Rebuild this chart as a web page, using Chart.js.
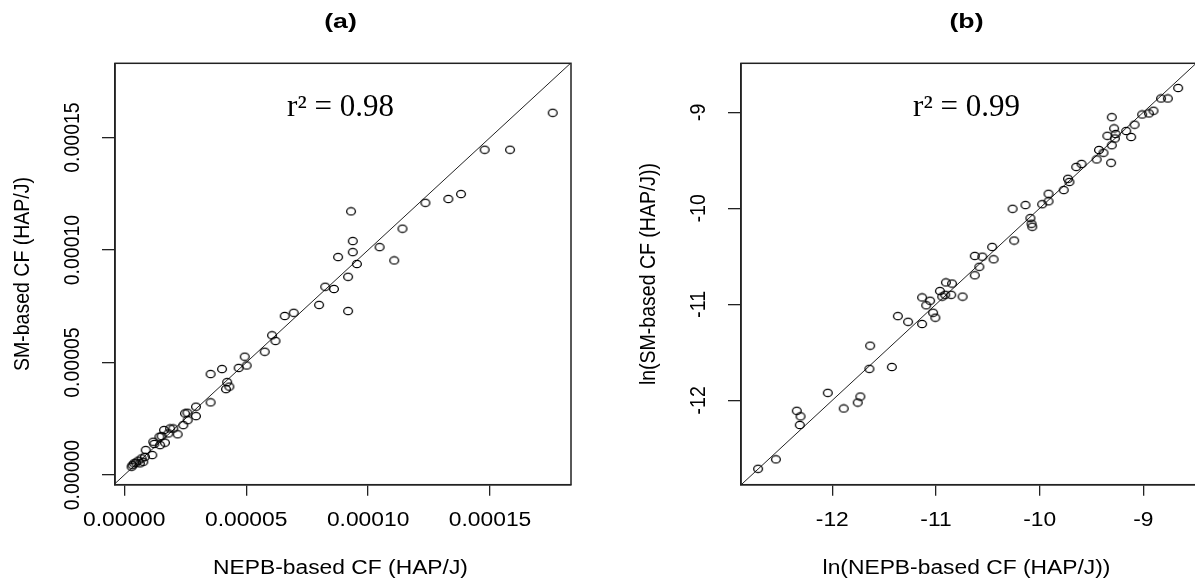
<!DOCTYPE html>
<html>
<head>
<meta charset="utf-8">
<script src="https://cdn.jsdelivr.net/npm/chart.js@4.4.1/dist/chart.umd.min.js"></script>
<style>
  html, body { margin: 0; padding: 0; background: #fff; overflow: hidden; width: 1195px; height: 585px; }
  .wrap { position: absolute; top: 0; height: 585px; }
</style>
</head>
<body>
<div class="wrap" id="wa" style="left:0;width:600px;"><canvas id="ca" width="600" height="585"></canvas></div>
<div class="wrap" id="wb" style="left:597px;width:630px;"><canvas id="cb" width="630" height="585"></canvas></div>
<script>
// ---------- data ----------
const TITLE_A = "(a)";
const TITLE_B = "(b)";
const R2_A = "r\u00B2 = 0.98";
const R2_B = "r\u00B2 = 0.99";
const XLABEL_A = "NEPB-based CF (HAP/J)";
const YLABEL_A = "SM-based CF (HAP/J)";
const XLABEL_B = "ln(NEPB-based CF (HAP/J))";
const YLABEL_B = "ln(SM-based CF (HAP/J))";

const A_TICKS = [0, 0.00005, 0.0001, 0.00015];
const A_TICK_LABELS = ["0.00000", "0.00005", "0.00010", "0.00015"];
const B_TICKS = [-12, -11, -10, -9];
const B_TICK_LABELS = ["-12", "-11", "-10", "-9"];

const A_X_RANGE = [-0.0000038, 0.0001832];
const A_Y_RANGE = [-0.0000043, 0.0001830];
const B_X_RANGE = [-12.881, -8.482];
const B_Y_RANGE = [-12.879, -8.490];

// 1:1 reference line endpoints
const LINE_A = [-0.00001, 0.0002];
const LINE_B = [-13.5, -8.0];

const A_X = [1.757e-4,1.478e-4,1.582e-4,1.235e-4,1.329e-4,1.381e-4,
  9.30e-5,1.141e-4,9.37e-5,9.37e-5,1.047e-4,8.77e-5,9.54e-5,1.107e-4,9.18e-5,8.24e-5,
  8.60e-5,7.99e-5,9.18e-5,6.58e-5,6.95e-5,6.06e-5,6.20e-5,5.76e-5,4.94e-5,5.02e-5,
  4.69e-5,4.01e-5,3.54e-5,4.22e-5,4.17e-5,4.31e-5,3.54e-5,2.94e-5,2.94e-5,2.59e-5,
  2.49e-5,2.60e-5,2.42e-5,2.19e-5,1.88e-5,1.81e-5,1.63e-5,1.53e-5,1.44e-5,1.67e-5,
  1.47e-5,1.19e-5,1.23e-5,8.8e-6,1.15e-5,8.5e-6,7.1e-6,5.8e-6,4.8e-6,4.0e-6,
  6.4e-6,7.8e-6,3.0e-6,3.4e-6,2.01e-5];
const A_Y = [1.610e-4,1.446e-4,1.446e-4,1.210e-4,1.227e-4,1.249e-4,
  1.172e-4,1.095e-4,1.040e-4,9.91e-5,1.013e-4,9.69e-5,9.38e-5,9.54e-5,8.81e-5,8.37e-5,
  8.27e-5,7.56e-5,7.29e-5,7.07e-5,7.21e-5,6.21e-5,5.96e-5,5.48e-5,5.26e-5,4.87e-5,
  4.76e-5,4.71e-5,4.49e-5,4.13e-5,3.82e-5,3.93e-5,3.23e-5,3.04e-5,2.62e-5,2.77e-5,
  2.74e-5,2.44e-5,2.22e-5,1.81e-5,2.07e-5,1.85e-5,2.00e-5,1.73e-5,1.70e-5,1.44e-5,
  1.33e-5,1.48e-5,1.38e-5,1.11e-5,8.9e-6,8.1e-6,7.4e-6,6.4e-6,5.5e-6,5.2e-6,
  5.2e-6,5.9e-6,3.7e-6,4.4e-6,2.07e-5];

const B_X = [-12.716,-12.544,-12.343,-12.307,-12.314,-12.044,-11.890,-11.755,-11.730,-11.642,
  -11.635,-11.426,-11.368,-11.269,-11.134,-11.134,-11.094,-11.057,-11.028,-11.006,
  -10.962,-10.940,-10.911,-10.904,-10.853,-10.845,-10.743,-10.626,-10.626,-10.582,
  -10.553,-10.458,-10.444,-10.261,-10.246,-10.137,-10.089,-10.078,-10.071,-9.976,
  -9.914,-9.914,-9.768,-9.727,-9.713,-9.647,-9.596,-9.450,-9.428,-9.384,
  -9.347,-9.304,-9.311,-9.304,-9.282,-9.274,-9.267,-9.165,-9.117,-9.084,
  -9.011,-8.946,-8.902,-8.829,-8.763,-8.664];
const B_Y = [-12.713,-12.615,-12.109,-12.167,-12.257,-11.922,-12.085,-12.023,-11.961,-11.672,
  -11.431,-11.653,-11.123,-11.182,-11.205,-10.928,-11.010,-10.963,-11.088,-11.139,
  -10.862,-10.920,-10.901,-10.772,-10.901,-10.784,-10.920,-10.496,-10.698,-10.609,
  -10.504,-10.402,-10.531,-10.005,-10.336,-9.966,-10.102,-10.161,-10.192,-9.958,
  -9.849,-9.927,-9.810,-9.693,-9.725,-9.569,-9.538,-9.491,-9.393,-9.421,
  -9.245,-9.051,-9.526,-9.343,-9.168,-9.273,-9.226,-9.195,-9.257,-9.129,
  -9.023,-9.012,-8.984,-8.856,-8.856,-8.747];

// ---------- styling ----------
const SANS = '"Liberation Sans", Arial, sans-serif';
const SERIF = '"Liberation Serif", "Times New Roman", serif';
const INK = '#000';
const SX = 1.17; // horizontal stretch of the reference picture

function makeMarker() {
  const c = document.createElement('canvas');
  c.width = 12; c.height = 10;
  const g = c.getContext('2d');
  g.strokeStyle = '#000';
  g.lineWidth = 1.25;
  g.beginPath();
  g.ellipse(6, 5, 4.4, 3.7, 0, 0, Math.PI * 2);
  g.stroke();
  return c;
}
const MARKER = makeMarker();

function txt(ctx, s, x, y, font, rot, sx) {
  ctx.save();
  ctx.translate(x, y);
  ctx.scale(sx, 1);
  if (rot) ctx.rotate(rot);
  ctx.font = font;
  ctx.fillStyle = INK;
  ctx.textAlign = 'center';
  ctx.textBaseline = 'middle';
  ctx.fillText(s, 0, 0);
  ctx.restore();
}

function decorPlugin(cfg) {
  return {
    id: 'decor',
    afterDraw(chart) {
      const ctx = chart.ctx;
      const a = chart.chartArea;
      const xs = chart.scales.x, ys = chart.scales.y;
      const cx = (a.left + a.right) / 2 - 2.5;
      const cy = (a.top + a.bottom) / 2;
      // box
      ctx.save();
      ctx.strokeStyle = '#222';
      ctx.lineWidth = 1.5;
      ctx.strokeRect(a.left, a.top, a.right - a.left, a.bottom - a.top);
      ctx.restore();
      // tick labels
      const f = '19.5px ' + SANS;
      cfg.ticks.forEach((v, i) => {
        txt(ctx, cfg.labels[i], xs.getPixelForValue(v), a.bottom + 35.5, f, 0, SX);
        txt(ctx, cfg.labels[i], a.left - 42, ys.getPixelForValue(v), f, -Math.PI / 2, SX);
      });
      // axis titles
      txt(ctx, cfg.xlabel, cx, a.bottom + 83.5, '19.5px ' + SANS, 0, SX);
      txt(ctx, cfg.ylabel, a.left - 92.5, cy, '19.5px ' + SANS, -Math.PI / 2, SX);
      // panel title
      txt(ctx, cfg.title, cx, 22, 'bold 21px ' + SANS, 0, SX + 0.1);
      // r squared
      txt(ctx, cfg.r2, cx, 108, '31px ' + SERIF, 0, 1);
    }
  };
}

function makeChart(id, X, Y, line, xr, yr, ticks, padRight, ylw, cfg) {
  const pts = X.map((x, i) => ({ x: x, y: Y[i] }));
  const ln = line.map(v => ({ x: v, y: v }));
  const axis = (range, sizeFn, tl) => ({
    type: 'linear',
    min: range[0], max: range[1],
    afterBuildTicks: s => { s.ticks = ticks.map(v => ({ value: v })); },
    afterFit: sizeFn,
    ticks: { display: false },
    grid: { drawOnChartArea: false, drawTicks: true, tickLength: tl, color: '#222', lineWidth: 1.3 },
    border: { display: true, color: '#222', width: 1.5 }
  });
  return new Chart(document.getElementById(id), {
    type: 'scatter',
    data: {
      datasets: [
        { type: 'line', data: ln, borderColor: '#222', borderWidth: 1, pointRadius: 0, fill: false, tension: 0, order: 2 },
        { type: 'scatter', data: pts, pointStyle: MARKER, pointRadius: 4, order: 1 }
      ]
    },
    options: {
      responsive: false,
      animation: false,
      events: [],
      layout: { padding: { left: 0, top: 63.3, right: padRight, bottom: 0 } },
      plugins: { legend: { display: false }, tooltip: { enabled: false }, title: { display: false } },
      scales: {
        x: axis(xr, s => { s.height = 100.3; }, 11),
        y: axis(yr, s => { s.width = ylw; }, 13)
      }
    },
    plugins: [decorPlugin(cfg)]
  });
}

makeChart('ca', A_X, A_Y, LINE_A, A_X_RANGE, A_Y_RANGE, A_TICKS, 29, 115,
  { ticks: A_TICKS, labels: A_TICK_LABELS, xlabel: XLABEL_A, ylabel: YLABEL_A, title: TITLE_A, r2: R2_A });
makeChart('cb', B_X, B_Y, LINE_B, B_X_RANGE, B_Y_RANGE, B_TICKS, 30, 144,
  { ticks: B_TICKS, labels: B_TICK_LABELS, xlabel: XLABEL_B, ylabel: YLABEL_B, title: TITLE_B, r2: R2_B });
</script>
</body>
</html>
